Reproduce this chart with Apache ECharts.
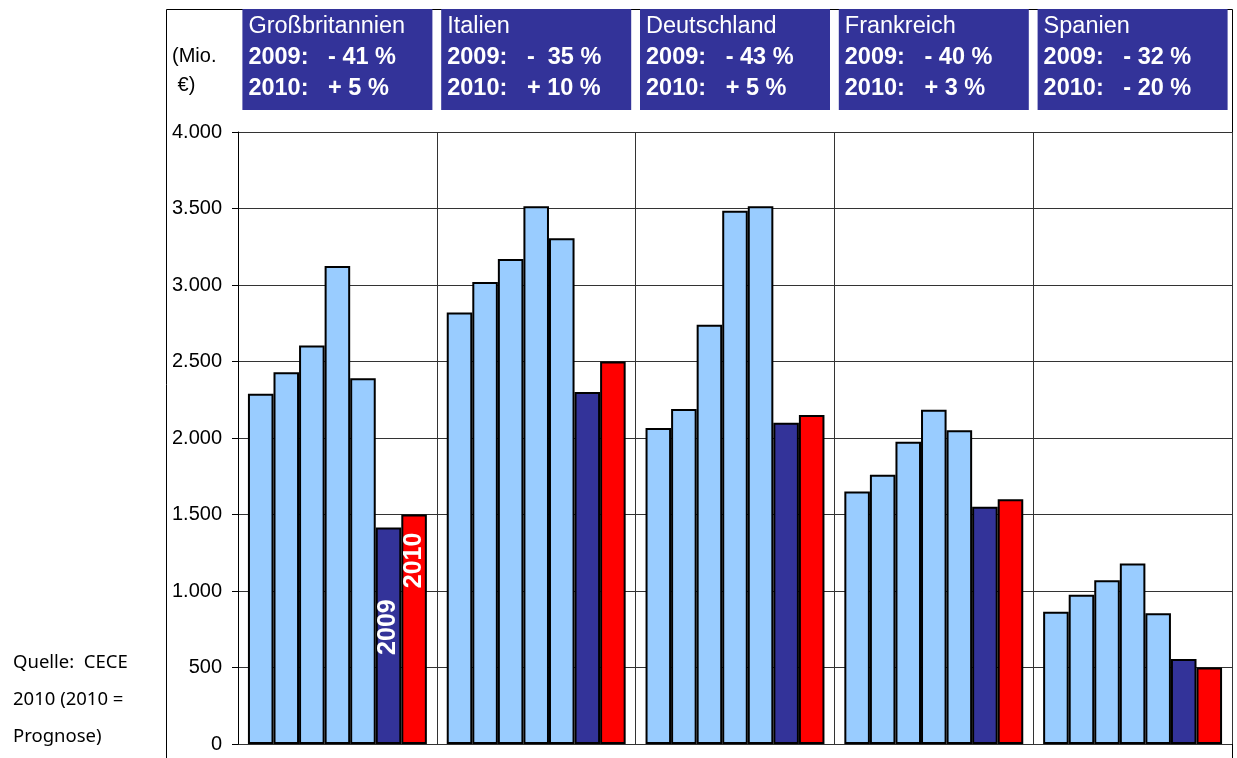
<!DOCTYPE html>
<html>
<head>
<meta charset="utf-8">
<title>Baumaschinen Umsatz</title>
<script src="https://cdn.jsdelivr.net/npm/echarts@6/dist/echarts.min.js"></script>
<style>
    html, body { margin: 0; padding: 0; background: #fff; }
    #chart { width: 1237px; height: 758px; }
</style>
</head>
<body>
<div id="chart"></div>
<script>
    // Länder und Veränderungen (Kopfboxen)
    var countries = ['Großbritannien', 'Italien', 'Deutschland', 'Frankreich', 'Spanien'];
    var change2009 = ['- 41 %', '-  35 %', '- 43 %', '- 40 %', '- 32 %'];
    var change2010 = ['+ 5 %', '+ 10 %', '+ 5 %', '+ 3 %', '- 20 %'];

    // Umsatz in Mio. Euro je Jahr
    var years = ['2004', '2005', '2006', '2007', '2008', '2009', '2010'];
    var y2004 = [2290, 2820, 2065, 1650, 865];
    var y2005 = [2430, 3020, 2190, 1760, 975];
    var y2006 = [2605, 3170, 2740, 1975, 1070];
    var y2007 = [3125, 3515, 3485, 2185, 1180];
    var y2008 = [2390, 3305, 3515, 2050, 855];
    var y2009 = [1415, 2300, 2100, 1550, 555];
    var y2010 = [1500, 2500, 2150, 1600, 500];

    var yTicks = [0, 500, 1000, 1500, 2000, 2500, 3000, 3500, 4000];

    var values = [y2004, y2005, y2006, y2007, y2008, y2009, y2010];
    var font = 'Liberation Sans, Arial, sans-serif';

    function barColor(i) {
        if (i === 5) return '#333399';
        if (i === 6) return '#ff0000';
        return '#99ccff';
    }

    var series = years.map(function (year, i) {
        var s = {
            name: year,
            type: 'bar',
            barGap: '0%',
            barCategoryGap: '10%',
            itemStyle: {
                color: barColor(i),
                borderColor: '#000',
                borderWidth: 2
            },
            data: values[i]
        };
        if (i >= 5) {
            // Jahresbeschriftung nur im ersten Land
            s.label = {
                show: true,
                position: ['50%', i === 5 ? '46%' : '20%'],
                rotate: 90,
                align: 'center',
                verticalAlign: 'middle',
                color: '#fff',
                fontFamily: font,
                fontWeight: 'bold',
                fontSize: 25,
                formatter: function (p) {
                    return p.dataIndex === 0 ? p.seriesName : '';
                }
            };
        }
        return s;
    });

    var myChart = echarts.init(document.getElementById('chart'));
    myChart.setOption({
        animation: false,
        backgroundColor: '#fff',
        grid: {
            left: 238,
            right: 5,
            top: 132,
            bottom: 14
        },
        xAxis: {
            type: 'category',
            position: 'top',
            data: countries,
            axisLine: { show: false },
            axisTick: { show: false },
            splitLine: {
                show: true,
                lineStyle: { color: '#333', width: 1 }
            },
            axisLabel: {
                interval: 0,
                margin: 22,
                width: 178,
                backgroundColor: '#333399',
                padding: [2, 6, 6, 6],
                formatter: function (v, idx) {
                    return '{n|' + v + '}\n{b|2009:   ' + change2009[idx] + '}\n{b|2010:   ' + change2010[idx] + '}';
                },
                rich: {
                    n: {
                        color: '#fff',
                        fontFamily: font,
                        fontSize: 23.5,
                        lineHeight: 31,
                        align: 'left'
                    },
                    b: {
                        color: '#fff',
                        fontFamily: font,
                        fontSize: 23.5,
                        fontWeight: 'bold',
                        lineHeight: 31,
                        align: 'left'
                    }
                }
            }
        },
        yAxis: {
            type: 'value',
            min: yTicks[0],
            max: yTicks[yTicks.length - 1],
            interval: 500,
            axisLine: {
                show: true,
                lineStyle: { color: '#000', width: 1 }
            },
            axisTick: {
                show: true,
                length: 6,
                lineStyle: { color: '#000' }
            },
            axisLabel: {
                margin: 16,
                color: '#000',
                fontFamily: font,
                fontSize: 20,
                formatter: function (v) {
                    return String(v).replace(/\B(?=(\d{3})+(?!\d))/g, '.');
                }
            },
            splitLine: {
                show: true,
                lineStyle: { color: '#333', width: 1 }
            }
        },
        series: series,
        graphic: [
            {
                type: 'rect',
                z: -10,
                silent: true,
                shape: { x: 166.5, y: 9.5, width: 1066, height: 800 },
                style: { fill: 'none', stroke: '#000', lineWidth: 1 }
            },
            {
                type: 'text',
                left: 172,
                top: 42,
                silent: true,
                style: {
                    text: '(Mio.\n €)',
                    fill: '#000',
                    font: '20px ' + font,
                    lineHeight: 29
                }
            },
            {
                type: 'text',
                left: 13,
                top: 644,
                silent: true,
                style: {
                    text: 'Quelle:  CECE\n2010 (2010 =\nPrognose)',
                    fill: '#000',
                    font: '18.5px "Noto Sans", sans-serif',
                    lineHeight: 37
                }
            }
        ]
    });
</script>
</body>
</html>
